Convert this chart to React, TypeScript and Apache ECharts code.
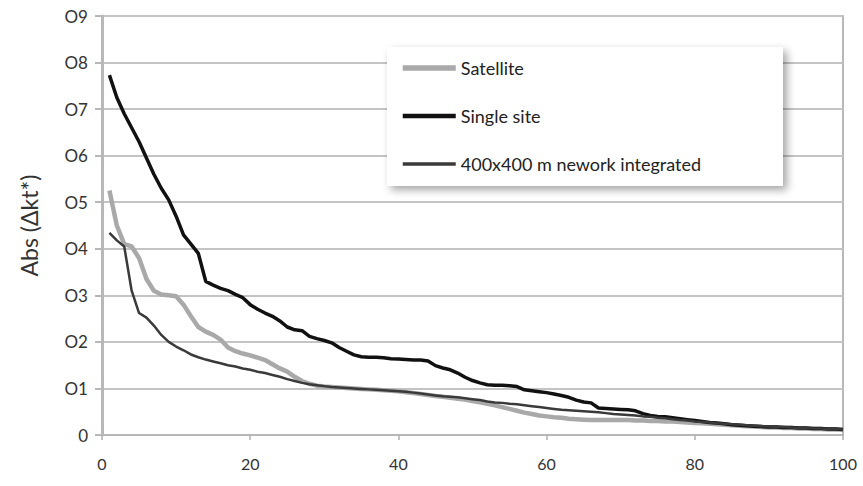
import React, { useEffect, useRef } from "react";
import * as echarts from "echarts";

const seriesNames = ["Satellite", "Single site", "400x400 m nework integrated"];

const satellite = [
  0.525, 0.45, 0.41, 0.405, 0.38, 0.335, 0.31, 0.302, 0.3, 0.298,
  0.28, 0.255, 0.232, 0.222, 0.215, 0.205, 0.188, 0.18, 0.175, 0.171,
  0.166, 0.161, 0.152, 0.143, 0.136, 0.125, 0.116, 0.11, 0.106, 0.104,
  0.103, 0.102, 0.101, 0.1, 0.099, 0.098, 0.097, 0.096, 0.095, 0.094,
  0.092, 0.09, 0.088, 0.086, 0.084, 0.082, 0.08, 0.078, 0.076, 0.073,
  0.07, 0.067, 0.064, 0.06, 0.056, 0.052, 0.048, 0.045, 0.042, 0.04,
  0.038, 0.037, 0.035, 0.034, 0.033, 0.032, 0.032, 0.032, 0.032, 0.032,
  0.032, 0.031, 0.031, 0.03, 0.03, 0.029, 0.029, 0.028, 0.027, 0.026,
  0.025, 0.024, 0.023, 0.022, 0.021, 0.02, 0.019, 0.018, 0.017, 0.016,
  0.016, 0.015, 0.015, 0.014, 0.014, 0.013, 0.013, 0.012, 0.012, 0.011,
];

const singleSite = [
  0.773, 0.725, 0.69, 0.66, 0.63, 0.595, 0.56, 0.53, 0.505, 0.47,
  0.43, 0.41, 0.39, 0.33, 0.322, 0.315, 0.31, 0.302, 0.295, 0.28,
  0.27, 0.262, 0.255, 0.245, 0.232, 0.226, 0.224, 0.212, 0.207, 0.203,
  0.198, 0.188, 0.18, 0.172, 0.168, 0.167, 0.167, 0.166, 0.164, 0.163,
  0.162, 0.161, 0.161, 0.159, 0.149, 0.144, 0.14, 0.133, 0.124, 0.117,
  0.112, 0.108, 0.107, 0.107, 0.106, 0.104, 0.097, 0.095, 0.093, 0.091,
  0.088, 0.085, 0.081, 0.075, 0.071, 0.069, 0.058, 0.057, 0.056, 0.055,
  0.054, 0.052, 0.046, 0.042, 0.04, 0.039, 0.037, 0.035, 0.033, 0.031,
  0.029, 0.027, 0.026, 0.024, 0.022, 0.021, 0.02, 0.019, 0.018, 0.017,
  0.017, 0.016, 0.016, 0.015, 0.015, 0.014, 0.014, 0.013, 0.013, 0.012,
];

const network = [
  0.434, 0.418, 0.405, 0.31, 0.262, 0.252, 0.235, 0.215, 0.2, 0.19,
  0.182, 0.173, 0.167, 0.162, 0.158, 0.154, 0.15, 0.147, 0.143, 0.14,
  0.136, 0.133, 0.129, 0.125, 0.12, 0.116, 0.112, 0.109, 0.107, 0.105,
  0.103, 0.102, 0.101, 0.1, 0.099, 0.098, 0.097, 0.096, 0.095, 0.094,
  0.093, 0.091, 0.089, 0.087, 0.085, 0.083, 0.082, 0.081, 0.079, 0.077,
  0.075, 0.072, 0.07, 0.069, 0.067, 0.066, 0.064, 0.062, 0.06, 0.058,
  0.056, 0.054, 0.053, 0.052, 0.051, 0.05, 0.049, 0.047, 0.045, 0.044,
  0.043, 0.042, 0.04, 0.039, 0.037, 0.036, 0.034, 0.032, 0.031, 0.029,
  0.028, 0.027, 0.025, 0.024, 0.023, 0.022, 0.021, 0.02, 0.019, 0.018,
  0.017, 0.017, 0.016, 0.015, 0.015, 0.014, 0.014, 0.013, 0.013, 0.012,
];

const yTickLabels = ["0", "O1", "O2", "O3", "O4", "O5", "O6", "O7", "O8", "O9"];
const xTickLabels = ["0", "20", "40", "60", "80", "100"];

const seriesColors = ["#a9a9a9", "#111111", "#3a3a3a"];
const seriesWidths = [4.5, 3.5, 2.5];

const toPairs = (arr: number[]) => arr.map((v, i) => [i + 1, v]);

export default function App() {
  const ref = useRef<HTMLDivElement>(null);
  useEffect(() => {
    if (!ref.current) return;
    const chart = echarts.init(ref.current, undefined, { renderer: "svg" });
    const font = "Lato, 'Open Sans', sans-serif";
    const values = [satellite, singleSite, network];
    chart.setOption({
      animation: false,
      backgroundColor: "#ffffff",
      textStyle: { fontFamily: font },
      grid: {
        left: 102,
        right: 20,
        top: 16,
        bottom: 51,
        show: true,
        borderColor: "#b8b8b8",
        borderWidth: 2,
      },
      xAxis: {
        type: "value",
        min: 0,
        max: 100,
        interval: 20,
        axisLine: { show: true, lineStyle: { color: "#b8b8b8", width: 2 } },
        axisTick: { show: true, length: 5, lineStyle: { color: "#b0b0b0", width: 1.5 } },
        splitLine: { show: false },
        axisLabel: {
          margin: 20,
          fontSize: 16,
          color: "#333",
          fontFamily: font,
          formatter: (v: number) => xTickLabels[Math.round(v / 20)] ?? "",
        },
      },
      yAxis: {
        type: "value",
        min: 0,
        max: 0.9,
        interval: 0.1,
        name: "Abs (\u0394kt*)",
        nameLocation: "middle",
        nameGap: 62,
        nameRotate: 90,
        nameTextStyle: { fontSize: 23, color: "#333", fontFamily: font },
        axisLine: { show: true, lineStyle: { color: "#b8b8b8", width: 3 } },
        axisTick: { show: true, length: 7, lineStyle: { color: "#b8b8b8", width: 2 } },
        splitLine: { show: true, lineStyle: { color: "#c4c4c4", width: 2 } },
        axisLabel: {
          margin: 14,
          fontSize: 17,
          color: "#333",
          fontFamily: font,
          formatter: (v: number) => yTickLabels[Math.round(v * 10)] ?? "",
        },
      },
      graphic: [
        {
          type: "rect",
          z: 3,
          shape: { x: 387, y: 47, width: 396, height: 139 },
          style: {
            fill: "#ffffff",
            shadowBlur: 8,
            shadowOffsetX: 4,
            shadowOffsetY: 4,
            shadowColor: "rgba(0,0,0,0.35)",
          },
        },
      ],
      legend: {
        show: true,
        z: 10,
        orient: "vertical",
        left: 400,
        top: 59,
        padding: 0,
        itemWidth: 53,
        itemHeight: 14,
        itemGap: 30,
        itemStyle: { opacity: 0 },
        data: seriesNames.map((name, i) => ({
          name,
          lineStyle: { color: seriesColors[i], width: seriesWidths[i] + 1 },
        })),
        textStyle: { fontSize: 18, color: "#222", fontFamily: font },
      },
      series: seriesNames.map((name, i) => ({
        name,
        type: "line",
        data: toPairs(values[i]),
        symbol: "none",
        showSymbol: false,
        lineStyle: { color: seriesColors[i], width: seriesWidths[i] },
        itemStyle: { color: seriesColors[i] },
        z: 2 + i,
      })),
    });
    return () => chart.dispose();
  }, []);
  return (
    <div
      ref={ref}
      style={{ position: "fixed", left: 0, top: 0, width: 863, height: 486 }}
    />
  );
}
